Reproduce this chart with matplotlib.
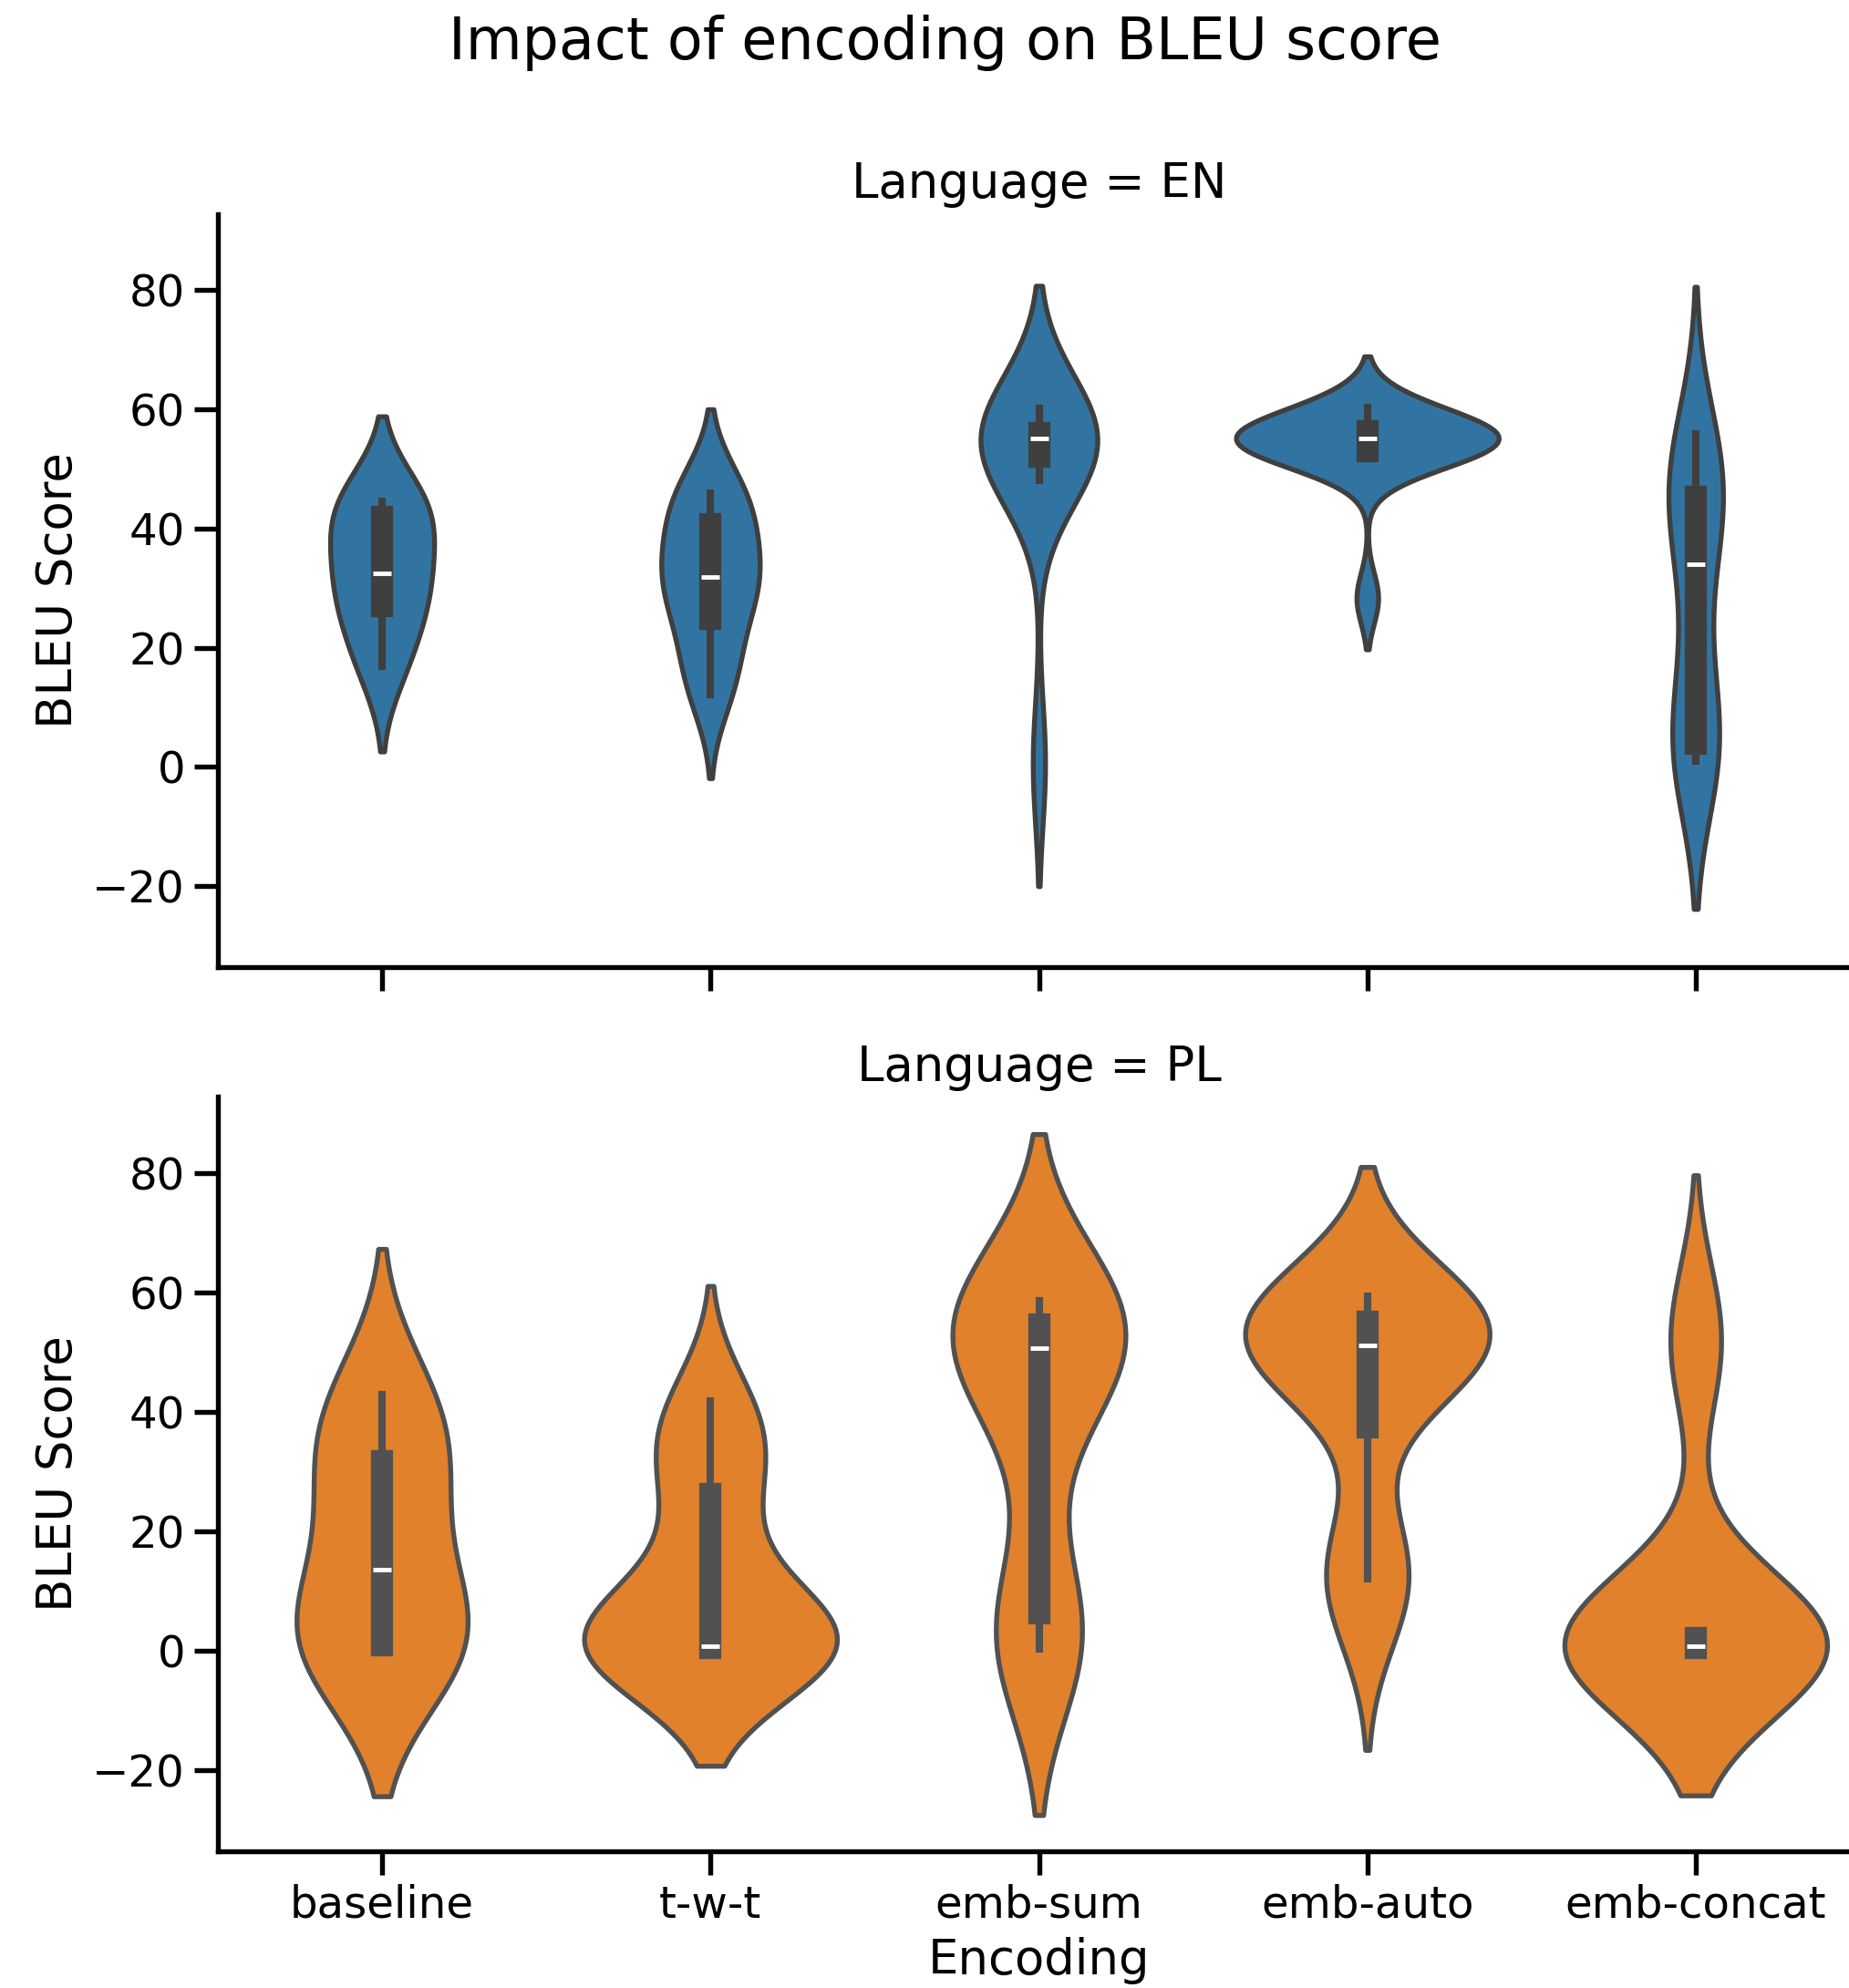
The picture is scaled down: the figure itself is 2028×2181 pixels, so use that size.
import matplotlib
matplotlib.use("Agg")
import matplotlib.pyplot as plt
import pandas as pd
import seaborn as sns

# ---- data (BLEU scores) ----
encodings = ["baseline", "t-w-t", "emb-sum", "emb-auto", "emb-concat"]
languages = ["EN", "PL"]

en_baseline = [16.8, 24.0, 30.0, 32.4, 39.7, 44.3, 44.6]
en_twt = [12.1, 15.5, 20.0, 26.4, 29.5, 31.0, 32.6, 35.5, 39.5, 44.7, 45.5, 46.0]
en_emb_sum = [0.6, 48.1, 51.0, 53.0, 54.2, 55.1, 55.4, 55.7, 56.3, 58.5, 60.1]
en_emb_auto = [28.3, 51.8, 52.2, 52.8, 53.2, 53.8, 54.5, 55.1, 55.5, 55.8, 56.1, 56.5, 57.6, 58.9, 60.3]
en_emb_concat = [0.9, 1.5, 2.5, 3.5, 4.0, 7.0, 18.0, 28.0, 40.0, 42.0, 43.5, 44.7, 47.1, 50.5, 53.5, 55.8]

pl_baseline = [0.0, 0.6, 1.2, 13.6, 28.0, 35.4, 42.9]
pl_twt = [0.0, 0.1, 0.3, 0.5, 0.6, 0.6, 0.7, 6.0, 15.0, 26.3, 32.5, 37.0, 41.8]
pl_emb_sum = [0.3, 1.0, 2.0, 3.0, 7.4, 36.0, 44.0, 49.5, 51.9, 53.0, 54.0, 54.4, 55.6, 57.0, 58.0, 58.7]
pl_emb_auto = [5.0, 12.1, 14.0, 17.0, 44.1, 46.5, 49.0, 50.5, 51.7, 52.8, 54.0, 54.8, 56.0, 57.3, 58.5, 59.4]
pl_emb_concat = [0.0, 0.2, 0.4, 0.48, 0.6, 0.65, 0.75, 1.2, 1.9, 2.9, 48.6, 55.4]

groups = {
    ("EN", "baseline"): en_baseline,
    ("EN", "t-w-t"): en_twt,
    ("EN", "emb-sum"): en_emb_sum,
    ("EN", "emb-auto"): en_emb_auto,
    ("EN", "emb-concat"): en_emb_concat,
    ("PL", "baseline"): pl_baseline,
    ("PL", "t-w-t"): pl_twt,
    ("PL", "emb-sum"): pl_emb_sum,
    ("PL", "emb-auto"): pl_emb_auto,
    ("PL", "emb-concat"): pl_emb_concat,
}

rows = []
for (lang, enc), vals in groups.items():
    for v in vals:
        rows.append({"Language": lang, "Encoding": enc, "BLEU Score": v})
df = pd.DataFrame(rows)

# ---- style: seaborn "talk" context on matplotlib's default style ----
sns.set_context("talk")
plt.rcParams["font.family"] = ["DejaVu Sans"]
plt.rcParams["xtick.labelsize"] = 16.8
plt.rcParams["ytick.labelsize"] = 16.8
plt.rcParams["axes.labelsize"] = 18.4
plt.rcParams["axes.titlesize"] = 18.4

DPI = 207
W, H = 2028, 2181
fig = plt.figure(figsize=(W / DPI, H / DPI), dpi=DPI)
fig.patch.set_facecolor("white")

left = 239 / W
width = 1801 / W
ax_top = fig.add_axes([left, (H - 1061) / H, width, 826.5 / H])
ax_bot = fig.add_axes([left, (H - 2030.7) / H, width, 827.3 / H])

palette = sns.color_palette("tab10")
for ax, lang, col in zip([ax_top, ax_bot], languages, palette[:2]):
    sub = df[df["Language"] == lang]
    sns.violinplot(data=sub, x="Encoding", y="BLEU Score", order=encodings,
                   color=col, inner="box", ax=ax)
    ax.set_title(f"Language = {lang}")
    ax.set_ylim(-33.6, 92.8)
    ax.set_yticks([-20, 0, 20, 40, 60, 80])
    ax.set_xlim(-0.5, 4.5)
    ax.set_ylabel("BLEU Score")

ax_top.set_xlabel("")
ax_top.tick_params(axis="x", labelbottom=False)
ax_bot.set_xlabel("Encoding")

sns.despine(fig=fig)

fig.suptitle("Impact of encoding on BLEU score", x=1036 / W, y=1 - 65 / H,
             va="baseline", fontsize=22.1)

fig.savefig("out.png", dpi=DPI, facecolor="white")
